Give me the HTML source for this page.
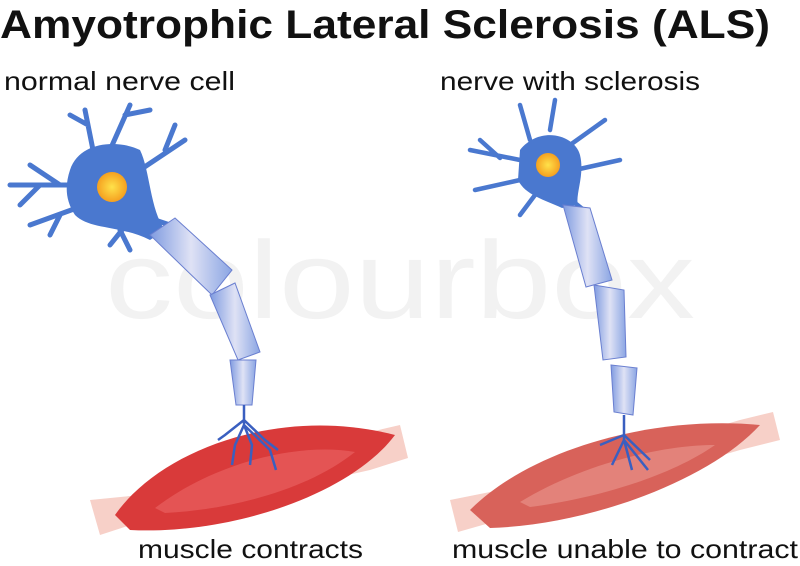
<!DOCTYPE html>
<html><head><meta charset="utf-8"><style>
body{margin:0;width:800px;height:561px;background:#fff;overflow:hidden;font-family:"Liberation Sans",sans-serif}
</style></head><body>
<svg width="800" height="561" viewBox="0 0 800 561" xmlns="http://www.w3.org/2000/svg">
<defs>
<linearGradient id="ax" x1="0" y1="0" x2="1" y2="0"><stop offset="0" stop-color="#7f9be0"/><stop offset="0.5" stop-color="#dfe2f5"/><stop offset="1" stop-color="#8aa5e3"/></linearGradient>
<radialGradient id="nuc"><stop offset="0" stop-color="#ffe24a"/><stop offset="1" stop-color="#f5a020"/></radialGradient>
</defs>
<text x="105" y="318" font-size="110" textLength="590" lengthAdjust="spacingAndGlyphs" fill="#f2f2f2">colourbox</text>
<text x="0" y="38" font-size="40" font-weight="bold" fill="#111" textLength="770" lengthAdjust="spacingAndGlyphs">Amyotrophic Lateral Sclerosis (ALS)</text>
<text x="4" y="90" font-size="26" fill="#111" textLength="231" lengthAdjust="spacingAndGlyphs">normal nerve cell</text>
<text x="440" y="90" font-size="26" fill="#111" textLength="260" lengthAdjust="spacingAndGlyphs">nerve with sclerosis</text>
<text x="138" y="558" font-size="26" fill="#111" textLength="225" lengthAdjust="spacingAndGlyphs">muscle contracts</text>
<text x="452" y="558" font-size="26" fill="#111" textLength="346" lengthAdjust="spacingAndGlyphs">muscle unable to contract</text>

<!-- left muscle -->
<path d="M90,500 L100,535 L140,522 L370,470 L408,458 L400,425 L370,432 L140,495 Z" fill="#f7d0c8"/>
<path d="M115,515 C160,450 280,405 395,435 C350,495 230,535 130,530 Z" fill="#d93a3a"/>
<path d="M155,508 C215,462 300,442 355,452 C305,492 225,510 165,513 Z" fill="#e86060" opacity="0.7"/>
<!-- left neuron -->
<g stroke="#4a78cf" stroke-width="5" fill="none" stroke-linecap="round">
<path d="M80,185 L10,185 M60,185 L30,165 M40,185 L20,205 M85,205 L30,225 M60,215 L50,235 M95,160 L85,110 M88,125 L70,115 M110,150 L130,105 M125,115 L150,110 M140,170 L185,140 M165,150 L175,125 M140,215 L170,225 M130,220 L110,245 M120,230 L130,250"/>
</g>
<path d="M70,170 C80,140 120,140 140,150 C150,170 150,210 165,230 L150,240 C120,225 90,230 75,215 C65,200 65,185 70,170 Z" fill="#4a78cf"/>
<circle cx="112" cy="187" r="15" fill="url(#nuc)"/>
<path d="M150,235 L175,218 L232,270 L212,295 Z" fill="url(#ax)" stroke="#6a7fd0"/>
<path d="M210,295 L235,283 L260,352 L238,360 Z" fill="url(#ax)" stroke="#6a7fd0"/>
<path d="M230,360 L256,360 L252,405 L236,405 Z" fill="url(#ax)" stroke="#6a7fd0"/>
<g stroke="#3a5fc0" stroke-width="2.5" fill="none">
<path d="M244,405 L244,425 M244,420 L225,435 L218,440 M244,425 L235,445 L232,465 M244,425 L252,445 L250,465 M244,420 L265,440 L278,450 M244,425 L270,450 L276,470"/>
</g>
<!-- right muscle -->
<path d="M450,500 L458,532 L500,520 L740,450 L780,440 L773,412 L740,420 L500,490 Z" fill="#f7d0c8"/>
<path d="M470,510 C530,450 650,415 760,425 C710,480 590,525 490,528 Z" fill="#d8625a"/>
<path d="M520,502 C580,465 660,445 715,445 C665,480 585,500 530,507 Z" fill="#e89088" opacity="0.7"/>
<!-- right neuron -->
<g stroke="#4a78cf" stroke-width="4.5" fill="none" stroke-linecap="round">
<path d="M520,160 L470,150 M500,158 L480,140 M520,180 L475,190 M530,140 L520,105 M550,130 L555,100 M570,145 L605,120 M575,170 L620,160 M565,195 L590,215 M535,195 L520,215"/>
</g>
<path d="M520,150 C540,125 575,135 580,155 C585,175 575,195 578,205 L562,208 C545,200 525,195 518,180 Z" fill="#4a78cf"/>
<circle cx="548" cy="165" r="12" fill="url(#nuc)"/>
<path d="M563,205 L590,208 L612,280 L586,287 Z" fill="url(#ax)" stroke="#6a7fd0"/>
<path d="M594,285 L624,290 L626,357 L603,360 Z" fill="url(#ax)" stroke="#6a7fd0"/>
<path d="M611,365 L637,368 L633,415 L614,412 Z" fill="url(#ax)" stroke="#6a7fd0"/>
<g stroke="#3a5fc0" stroke-width="2.5" fill="none">
<path d="M624,415 L624,440 M624,435 L600,445 M624,440 L612,465 M624,440 L632,470 M624,435 L650,460 M624,440 L648,470"/>
</g>
</svg>
</body></html>
